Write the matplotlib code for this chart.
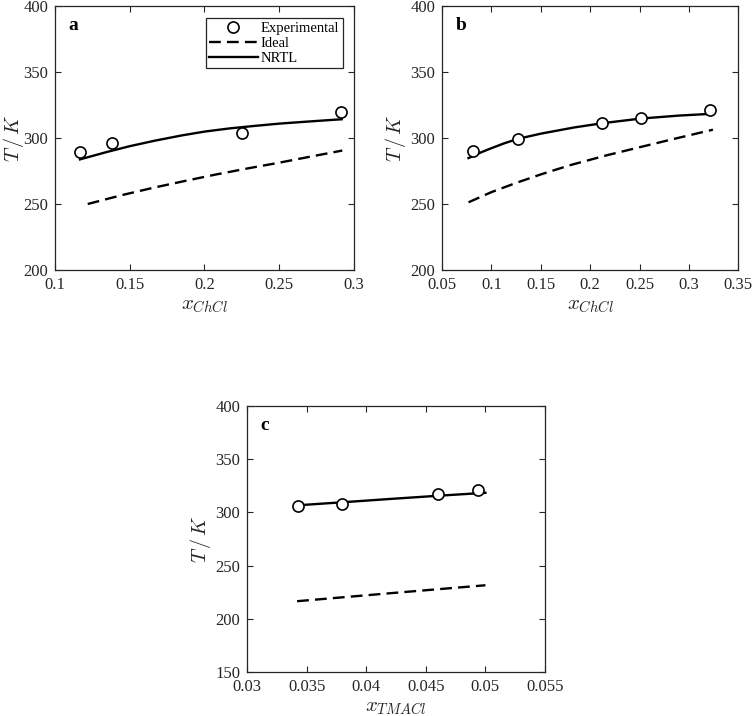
import numpy as np
import matplotlib
matplotlib.use("Agg")
import matplotlib.pyplot as plt

plt.rcParams['font.family'] = ['Liberation Serif', 'DejaVu Serif']
plt.rcParams['mathtext.fontset'] = 'cm'

# --- Panel a: ChCl system ---
a_exp_x = [0.1167, 0.1384, 0.2253, 0.2911]
a_exp_T = [289.5, 296.5, 304.0, 319.5]
a_nrtl_x = [0.1167, 0.135, 0.15, 0.1669, 0.185, 0.2003, 0.217, 0.2338, 0.25, 0.2672, 0.28, 0.2918]
a_nrtl_T = [283.8, 289.5, 293.8, 298.0, 302.0, 304.9, 307.3, 309.2, 310.9, 312.3, 313.3, 314.2]
a_ideal_x = [0.1219, 0.145, 0.1669, 0.19, 0.207, 0.23, 0.25, 0.27, 0.2922]
a_ideal_T = [250.0, 256.8, 262.6, 268.2, 272.2, 277.2, 281.3, 285.7, 290.5]

# --- Panel b: ChCl system ---
b_exp_x = [0.0811, 0.127, 0.2122, 0.2513, 0.3216]
b_exp_T = [290.4, 299.4, 311.2, 315.2, 321.2]
b_nrtl_x = [0.0768, 0.09, 0.1, 0.113, 0.127, 0.15, 0.1838, 0.2122, 0.2507, 0.29, 0.3242]
b_nrtl_T = [284.8, 289.3, 292.3, 296.0, 299.4, 303.3, 308.0, 311.2, 314.7, 317.0, 318.4]
b_ideal_x = [0.0768, 0.1, 0.125, 0.1503, 0.18, 0.2172, 0.25, 0.2841, 0.3242]
b_ideal_T = [251.3, 259.0, 266.0, 272.5, 279.5, 287.0, 293.0, 299.2, 306.3]

# --- Panel c: TMACl system ---
c_exp_x = [0.03428, 0.03797, 0.0460, 0.04938]
c_exp_T = [306.2, 307.8, 317.0, 321.0]
c_nrtl_x = [0.03420, 0.0380, 0.0420, 0.0460, 0.0500]
c_nrtl_T = [306.6, 309.5, 312.6, 315.6, 318.4]
c_ideal_x = [0.03420, 0.0420, 0.0500]
c_ideal_T = [216.5, 224.0, 231.5]

ink = '#262626'
dash = (0, (5, 2.6))


def draw(ax, ex, eT, nx, nT, ix, iT, xlim, xticks, ylim, yticks, xlab, tag, ylab_x, legend=False):
    ax.plot(ex, eT, 'o', ms=8, mfc='white', mec='black', mew=1.2, label='Experimental', zorder=3)
    ax.plot(ix, iT, color='black', lw=1.7, linestyle=dash, label='Ideal')
    ax.plot(nx, nT, color='black', lw=1.7, label='NRTL')
    ax.set_xlim(xlim)
    ax.set_ylim(ylim)
    ax.set_xticks(xticks)
    ax.set_xticklabels([('%g' % t) for t in xticks])
    ax.set_yticks(yticks)
    ax.tick_params(direction='in', top=True, right=True, length=4, width=0.8,
                   labelsize=12, colors=ink, pad=5)
    for s in ax.spines.values():
        s.set_color(ink)
        s.set_linewidth(0.9)
    ax.set_ylabel(r'$T\,/\,K$', fontsize=14.5, color=ink)
    ax.yaxis.set_label_coords(ylab_x, 0.5)
    ax.set_xlabel(xlab, fontsize=15, color=ink, labelpad=2)
    ax.text(0.045, 0.925, tag, transform=ax.transAxes, fontsize=14, fontweight='bold',
            va='center', ha='left')
    if legend:
        h, l = ax.get_legend_handles_labels()
        leg = ax.legend(h, l, loc='upper right', bbox_to_anchor=(0.962, 0.955), fontsize=10.5,
                        fancybox=False, framealpha=1, edgecolor=ink, handlelength=3.3,
                        handletextpad=0.2, borderpad=0.25, labelspacing=0.12, borderaxespad=0)
        leg.get_frame().set_linewidth(0.9)


fig = plt.figure(figsize=(7.55, 7.16), dpi=100)
ax_a = fig.add_axes([0.0728, 0.6229, 0.396, 0.3687])
ax_b = fig.add_axes([0.5855, 0.6229, 0.3925, 0.3687])
ax_c = fig.add_axes([0.3272, 0.0615, 0.3947, 0.3715])

draw(ax_a, a_exp_x, a_exp_T, a_nrtl_x, a_nrtl_T, a_ideal_x, a_ideal_T,
     (0.1, 0.3), [0.1, 0.15, 0.2, 0.25, 0.3], (200, 400), [200, 250, 300, 350, 400],
     r'$x_{ChCl}$', 'a', -0.098, legend=True)
draw(ax_b, b_exp_x, b_exp_T, b_nrtl_x, b_nrtl_T, b_ideal_x, b_ideal_T,
     (0.05, 0.35), [0.05, 0.1, 0.15, 0.2, 0.25, 0.3, 0.35], (200, 400), [200, 250, 300, 350, 400],
     r'$x_{ChCl}$', 'b', -0.115)
draw(ax_c, c_exp_x, c_exp_T, c_nrtl_x, c_nrtl_T, c_ideal_x, c_ideal_T,
     (0.03, 0.055), [0.03, 0.035, 0.04, 0.045, 0.05, 0.055], (150, 400), [150, 200, 250, 300, 350, 400],
     r'$x_{TMACl}$', 'c', -0.115)

fig.savefig('out.png', dpi=100)
